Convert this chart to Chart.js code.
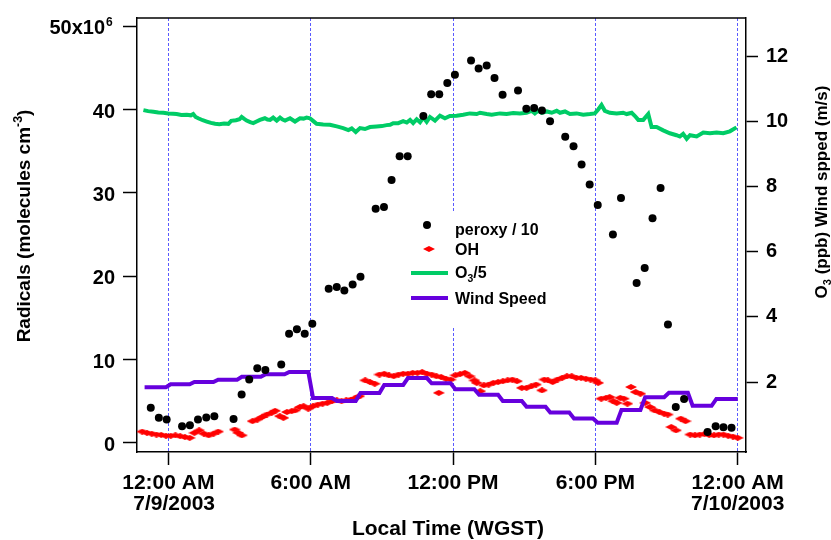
<!DOCTYPE html>
<html>
<head>
<meta charset="utf-8">
<script src="https://cdn.jsdelivr.net/npm/chart.js@4.4.1/dist/chart.umd.min.js"></script>
<style>
  html, body { margin: 0; padding: 0; background: #fff; }
  #wrap { width: 831px; height: 540px; position: relative; }
</style>
</head>
<body>
<div id="wrap"><canvas id="radChart"></canvas></div>
<script>
// time axis = hours after midnight of 7/9/2003 (local time, WGST)
const xTicks = [0, 6, 12, 18, 24];
const xTickLabels = [['12:00 AM', '\u20077/9/2003'], '6:00 AM', '12:00 PM', '6:00 PM', ['12:00 AM', '7/10/2003']];
const radTicks = [0, 10, 20, 30, 40, 50];
const radTickLabels = ['0', '10', '20', '30', '40', '50x10\u2002'];
const radTopExponent = '6';
const rightTicks = [2, 4, 6, 8, 10, 12];
const rightTickLabels = ['2', '4', '6', '8', '10', '12'];

// peroxy / 10  (x10^6 molecules cm-3)
const peroxyTime = [-0.74, -0.40, -0.07, 0.58, 0.91, 1.25, 1.60, 1.94, 2.75, 3.09,
  3.41, 3.75, 4.09, 4.76, 5.09, 5.42, 5.75, 6.07, 6.76, 7.10,
  7.42, 7.77, 8.10, 8.74, 9.09, 9.41, 9.75, 10.09, 10.75, 11.08,
  11.42, 11.76, 12.08, 12.76, 13.08, 13.42, 13.75, 14.09, 14.74, 15.09,
  15.42, 15.75, 16.09, 16.73, 17.08, 17.42, 17.76, 18.10, 18.74, 19.08,
  19.74, 20.08, 20.41, 20.75, 21.06, 21.39, 21.74, 22.73, 23.07, 23.40, 23.74];
const peroxyVal = [4.2, 3.0, 2.8, 2.0, 2.1, 2.8, 3.05, 3.2, 2.85, 5.8,
  7.6, 8.95, 8.75, 9.4, 13.1, 13.65, 13.1, 14.3, 18.5, 18.7,
  18.3, 19.0, 19.95, 28.1, 28.3, 31.55, 34.4, 34.4, 39.25, 41.85,
  41.85, 43.2, 44.2, 45.9, 44.95, 45.3, 43.8, 41.8, 42.3, 40.1,
  40.2, 39.9, 38.6, 36.75, 35.6, 33.4, 31.0, 28.55, 25.0, 29.4,
  19.2, 21.0, 26.95, 30.6, 14.2, 4.3, 5.27, 1.3, 2.0, 1.86, 1.8];

// OH (x10^6 molecules cm-3)
const ohTime = [-1.1, -0.9, -0.7, -0.5, -0.3, -0.1, 0.1, 0.3, 0.5, 0.7,
  0.9, 1.1, 1.3, 1.5, 1.7, 1.9, 2.1, 2.8, 2.95, 3.1,
  3.55, 3.75, 3.95, 4.15, 4.35, 4.5, 4.7, 4.85, 5.0, 5.2,
  5.35, 5.55, 5.7, 5.9, 6.1, 6.3, 6.5, 6.7, 6.9, 7.1,
  7.3, 7.5, 7.7, 7.9, 8.05, 8.3, 8.5, 8.7, 8.9, 9.1,
  9.3, 9.5, 9.7, 9.9, 10.1, 10.3, 10.5, 10.7, 10.9, 11.1,
  11.3, 11.4, 11.5, 11.7, 11.9, 12.1, 12.3, 12.5, 12.7, 12.9,
  13.0, 13.15, 13.3, 13.5, 13.7, 13.9, 14.1, 14.3, 14.5, 14.7,
  14.9, 15.1, 15.3, 15.5, 15.75, 15.85, 16.0, 16.2, 16.4, 16.6,
  16.8, 17.0, 17.2, 17.4, 17.6, 17.8, 18.0, 18.12, 18.25, 18.45,
  18.6, 18.75, 18.9, 19.05, 19.2, 19.35, 19.5, 19.7, 19.9, 20.1,
  20.3, 20.5, 20.7, 20.9, 21.05, 21.2, 21.4, 21.6, 21.8, 22.0,
  22.2, 22.4, 22.6, 22.8, 23.0, 23.2, 23.4, 23.6, 23.8, 24.0];
const ohVal = [1.35, 1.2, 1.1, 1.0, 0.95, 0.85, 0.85, 0.9, 0.8, 0.7,
  0.6, 1.2, 1.5, 1.1, 0.9, 1.1, 1.35, 1.6, 1.2, 0.9,
  2.6, 2.8, 3.1, 3.4, 3.6, 3.85, 3.2, 3.0, 3.7, 3.8,
  3.9, 4.3, 4.4, 4.1, 4.4, 4.6, 4.7, 4.8, 5.0, 5.1,
  5.0, 5.1, 5.2, 5.4, 5.6, 7.5, 7.3, 7.1, 8.2, 8.3,
  8.1, 8.0, 8.2, 8.3, 8.3, 8.4, 8.4, 8.5, 8.3, 8.2,
  8.0, 6.0, 7.9, 7.7, 7.6, 8.1, 8.25, 8.4, 8.0, 7.5,
  7.2, 6.2, 6.9, 7.0, 7.2, 7.3, 7.4, 7.5, 7.6, 7.4,
  6.6, 6.6, 6.8, 7.0, 6.3, 7.6, 7.5, 7.3, 7.6, 7.8,
  8.0, 8.0, 7.8, 7.8, 7.7, 7.6, 7.5, 7.2, 5.3, 5.4,
  5.5, 5.0, 4.8, 5.4, 5.3, 4.7, 6.7, 6.1, 5.9, 4.8,
  4.3, 3.9, 3.7, 3.5, 3.4, 1.9, 1.5, 2.9, 2.6, 1.0,
  0.9, 1.0, 1.05, 0.95, 0.9, 1.0, 1.0, 0.85, 0.75, 0.6];

// O3 / 5 (ppb)
const o3Time = [-1.05, -0.85, -0.63, -0.42, -0.21, 0.0, 0.2, 0.35, 0.55, 0.78,
  0.95, 1.05, 1.15, 1.26, 1.45, 1.62, 1.8, 1.97, 2.15, 2.35,
  2.53, 2.65, 2.85, 3.0, 3.09, 3.2, 3.30, 3.45, 3.58, 3.72,
  3.86, 4.07, 4.18, 4.29, 4.42, 4.57, 4.71, 4.82, 4.92, 5.13,
  5.34, 5.55, 5.70, 5.83, 5.97, 6.1, 6.25, 6.53, 6.81, 7.10,
  7.37, 7.59, 7.73, 7.90, 8.08, 8.29, 8.50, 8.78, 9.0, 9.20,
  9.35, 9.48, 9.69, 9.90, 10.05, 10.19, 10.32, 10.47, 10.61, 10.75,
  10.89, 11.03, 11.24, 11.45, 11.66, 11.87, 12.15, 12.43, 12.71, 13.0,
  13.14, 13.42, 13.63, 13.98, 14.26, 14.54, 14.82, 15.10, 15.31, 15.45,
  15.59, 15.74, 15.95, 16.16, 16.37, 16.51, 16.72, 16.93, 17.21, 17.49,
  17.77, 17.98, 18.12, 18.26, 18.40, 18.61, 18.90, 19.17, 19.32, 19.53,
  19.67, 19.81, 20.02, 20.23, 20.37, 20.58, 20.86, 21.14, 21.42, 21.56,
  21.70, 21.85, 21.99, 22.27, 22.55, 22.83, 23.11, 23.39, 23.67, 23.95];
const o3Val = [10.35, 10.32, 10.30, 10.28, 10.27, 10.25, 10.24, 10.23, 10.20, 10.21,
  10.19, 10.23, 10.14, 10.10, 10.04, 10.00, 9.96, 9.93, 9.92, 9.94,
  9.93, 10.02, 10.04, 10.07, 10.14, 10.08, 10.03, 9.98, 9.95, 10.00,
  10.05, 10.10, 10.06, 10.05, 10.12, 10.03, 10.12, 10.06, 10.03, 10.10,
  10.00, 10.10, 10.09, 10.12, 10.10, 10.02, 9.93, 9.91, 9.90, 9.85,
  9.80, 9.74, 9.79, 9.68, 9.80, 9.77, 9.83, 9.85, 9.86, 9.89,
  9.90, 9.95, 9.95, 10.01, 9.97, 10.05, 9.95, 10.07, 9.98, 10.12,
  9.99, 10.14, 10.03, 10.18, 10.10, 10.17, 10.18, 10.21, 10.25, 10.23,
  10.27, 10.23, 10.21, 10.25, 10.23, 10.26, 10.25, 10.27, 10.33, 10.25,
  10.33, 10.27, 10.31, 10.27, 10.33, 10.27, 10.31, 10.23, 10.25, 10.21,
  10.23, 10.25, 10.37, 10.51, 10.33, 10.27, 10.25, 10.27, 10.23, 10.27,
  10.17, 10.05, 10.05, 10.23, 9.83, 9.83, 9.73, 9.64, 9.58, 9.54,
  9.62, 9.47, 9.58, 9.54, 9.66, 9.64, 9.66, 9.64, 9.70, 9.82];

// wind speed (m/s), hourly averages, labelled by start hour
const windHour = [-1, 0, 1, 2, 3, 4, 5, 6, 7, 8, 9, 10, 11, 12, 13, 14, 15, 16, 17, 18, 19, 20, 21, 22, 23];
const windSpeed = [1.84, 1.93, 2.0, 2.07, 2.16, 2.24, 2.31, 1.51, 1.42, 1.66, 1.91, 2.12, 1.96,
  1.78, 1.61, 1.42, 1.24, 1.06, 0.88, 0.75, 1.14, 1.53, 1.67, 1.27, 1.48];

const FONT = '"Liberation Sans", Arial, Helvetica, sans-serif';
const GREEN = '#00cc66';
const PURPLE = '#6600dd';
const RED = '#ff0000';

function pairs(xs, ys) {
  return xs.map(function(x, i) { return {x: x, y: ys[i]}; });
}

// hourly wind as a stair line with short ramps between the hours
const windPts = [];
windHour.forEach(function(h, i) {
  const last = i === windHour.length - 1;
  windPts.push({x: i === 0 ? h : h + 0.1, y: windSpeed[i]});
  windPts.push({x: last ? h + 1 : h + 0.9, y: windSpeed[i]});
});

// flat red diamond used for OH
const ohMark = document.createElement('canvas');
ohMark.width = 12;
ohMark.height = 6;
(function() {
  const c = ohMark.getContext('2d');
  c.fillStyle = RED;
  c.beginPath();
  c.moveTo(0, 3); c.lineTo(6, 0); c.lineTo(12, 3); c.lineTo(6, 6);
  c.closePath();
  c.fill();
})();

// text made of pieces, some raised or lowered
function richText(ctx, parts, size, x, y, align) {
  const widths = parts.map(function(p) {
    ctx.font = 'bold ' + (p.sub || p.sup ? size * 0.65 : size) + 'px ' + FONT;
    return ctx.measureText(p.t).width;
  });
  const total = widths.reduce(function(a, b) { return a + b; }, 0);
  let cx = align === 'center' ? x - total / 2 : x;
  parts.forEach(function(p, i) {
    ctx.font = 'bold ' + (p.sub || p.sup ? size * 0.65 : size) + 'px ' + FONT;
    let dy = 0;
    if (p.sup) dy = -size * 0.4;
    if (p.sub) dy = size * 0.25;
    ctx.fillText(p.t, cx, y + dy);
    cx += widths[i];
  });
}

const decor = {
  id: 'decor',
  afterDraw(chart) {
    const ctx = chart.ctx;
    const a = chart.chartArea;
    ctx.save();
    // top frame
    ctx.strokeStyle = '#000';
    ctx.lineWidth = 1.5;
    ctx.beginPath();
    ctx.moveTo(a.left, a.top);
    ctx.lineTo(a.right, a.top);
    ctx.stroke();

    // exponent of the top left tick label
    ctx.fillStyle = '#000';
    ctx.textAlign = 'left';
    ctx.textBaseline = 'alphabetic';
    ctx.font = 'bold 12px ' + FONT;
    ctx.fillText(radTopExponent, 106, chart.scales.y.getPixelForValue(50) - 0.5);

    // legend
    ctx.fillStyle = '#fff';
    ctx.fillRect(402, 213, 146, 115);
    ctx.fillStyle = '#000';
    ctx.beginPath();
    ctx.arc(427, 225, 4, 0, Math.PI * 2);
    ctx.fill();
    ctx.drawImage(ohMark, 423, 246);
    ctx.lineWidth = 4;
    ctx.strokeStyle = GREEN;
    ctx.beginPath(); ctx.moveTo(411, 273); ctx.lineTo(448, 273); ctx.stroke();
    ctx.strokeStyle = PURPLE;
    ctx.beginPath(); ctx.moveTo(411, 298); ctx.lineTo(448, 298); ctx.stroke();
    ctx.fillStyle = '#000';
    richText(ctx, [{t: 'peroxy / 10'}], 16, 455, 234.5, 'left');
    richText(ctx, [{t: 'OH'}], 16, 455, 254.5, 'left');
    richText(ctx, [{t: 'O'}, {t: '3', sub: true}, {t: '/5'}], 16, 455, 278, 'left');
    richText(ctx, [{t: 'Wind Speed'}], 16, 455, 303.5, 'left');

    // axis titles
    richText(ctx, [{t: 'Local Time (WGST)'}], 21, 448, 535, 'center');
    ctx.save();
    ctx.translate(30, 226);
    ctx.rotate(-Math.PI / 2);
    richText(ctx, [{t: 'Radicals (molecules cm'}, {t: '-3', sup: true}, {t: ')'}], 19, 0, 0, 'center');
    ctx.restore();
    ctx.save();
    ctx.translate(827, 192);
    ctx.rotate(-Math.PI / 2);
    richText(ctx, [{t: 'O'}, {t: '3', sub: true}, {t: ' (ppb) Wind spped (m/s)'}], 17, 0, 0, 'center');
    ctx.restore();
    ctx.restore();
  }
};

const tickFont = {family: FONT, size: 20, weight: 'bold', lineHeight: 1.0};

new Chart(document.getElementById('radChart'), {
  type: 'scatter',
  data: {
    datasets: [
      {
        label: 'peroxy / 10',
        data: pairs(peroxyTime, peroxyVal),
        yAxisID: 'y',
        pointStyle: 'circle',
        pointRadius: 4,
        backgroundColor: '#000',
        borderWidth: 0,
        order: 0
      },
      {
        label: 'O3/5',
        data: pairs(o3Time, o3Val),
        yAxisID: 'y2',
        showLine: true,
        borderColor: GREEN,
        borderWidth: 4,
        pointRadius: 0,
        tension: 0,
        order: 1
      },
      {
        label: 'Wind Speed',
        data: windPts,
        yAxisID: 'y2',
        showLine: true,
        borderColor: PURPLE,
        borderWidth: 4,
        pointRadius: 0,
        tension: 0,
        order: 2
      },
      {
        label: 'OH',
        data: pairs(ohTime, ohVal),
        yAxisID: 'y',
        pointStyle: ohMark,
        pointRadius: 5,
        order: 3
      }
    ]
  },
  options: {
    responsive: true,
    maintainAspectRatio: false,
    animation: false,
    layout: { padding: { top: 14, left: 0, right: 0, bottom: 0 } },
    plugins: {
      legend: { display: false },
      tooltip: { enabled: false }
    },
    scales: {
      x: {
        type: 'linear',
        position: 'bottom',
        min: -1.32,
        max: 24.35,
        afterBuildTicks: function(s) { s.ticks = xTicks.map(function(v) { return {value: v}; }); },
        afterFit: function(s) { s.height = 88; },
        grid: {
          color: '#5a5aff',
          lineWidth: 1,
          tickLength: 13,
          tickColor: '#000',
          tickWidth: 1.5,
          tickBorderDash: []
        },
        border: { color: '#000', width: 1.5, dash: [3, 2] },
        ticks: {
          color: '#000',
          font: {family: FONT, size: 21, weight: 'bold', lineHeight: 1.0},
          padding: 8,
          autoSkip: false,
          maxRotation: 0,
          callback: function(v, i) { return xTickLabels[i]; }
        }
      },
      y: {
        type: 'linear',
        position: 'left',
        min: -1.1,
        max: 51,
        afterBuildTicks: function(s) { s.ticks = radTicks.map(function(v) { return {value: v}; }); },
        afterFit: function(s) { s.width = 137; },
        grid: {
          drawOnChartArea: false,
          tickLength: 14,
          tickColor: '#000',
          tickWidth: 1.5
        },
        border: { color: '#000', width: 1.5 },
        ticks: {
          color: '#000',
          font: tickFont,
          padding: 8,
          labelOffset: 2.5,
          callback: function(v, i) { return radTickLabels[i]; }
        }
      },
      y2: {
        type: 'linear',
        position: 'right',
        min: -0.15,
        max: 13.18,
        afterBuildTicks: function(s) { s.ticks = rightTicks.map(function(v) { return {value: v}; }); },
        afterFit: function(s) { s.width = 85; },
        grid: {
          drawOnChartArea: false,
          tickLength: 12,
          tickColor: '#000',
          tickWidth: 1.5
        },
        border: { color: '#000', width: 1.5 },
        ticks: {
          color: '#000',
          font: tickFont,
          padding: 8,
          callback: function(v, i) { return rightTickLabels[i]; }
        }
      }
    }
  },
  plugins: [decor]
});
</script>
</body>
</html>
